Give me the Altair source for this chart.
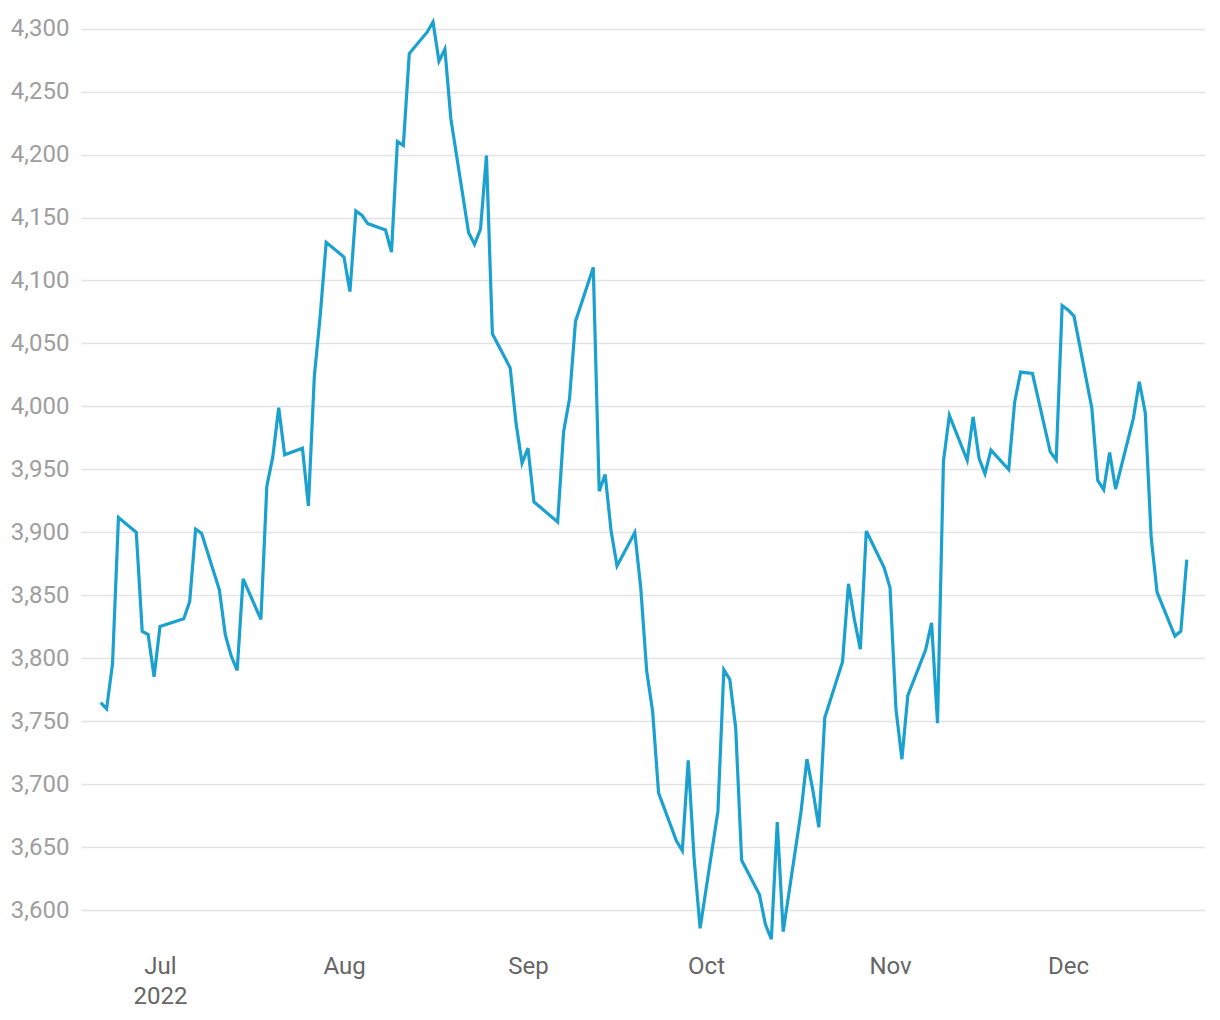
import altair as alt
import pandas as pd

dates = [
    "2022-06-21", "2022-06-22", "2022-06-23", "2022-06-24", "2022-06-27", "2022-06-28", "2022-06-29", "2022-06-30",
    "2022-07-01", "2022-07-05", "2022-07-06", "2022-07-07", "2022-07-08", "2022-07-11", "2022-07-12", "2022-07-13",
    "2022-07-14", "2022-07-15", "2022-07-18", "2022-07-19", "2022-07-20", "2022-07-21", "2022-07-22", "2022-07-25",
    "2022-07-26", "2022-07-27", "2022-07-28", "2022-07-29",
    "2022-08-01", "2022-08-02", "2022-08-03", "2022-08-04", "2022-08-05", "2022-08-08", "2022-08-09", "2022-08-10",
    "2022-08-11", "2022-08-12", "2022-08-15", "2022-08-16", "2022-08-17", "2022-08-18", "2022-08-19", "2022-08-22",
    "2022-08-23", "2022-08-24", "2022-08-25", "2022-08-26", "2022-08-29", "2022-08-30", "2022-08-31",
    "2022-09-01", "2022-09-02", "2022-09-06", "2022-09-07", "2022-09-08", "2022-09-09", "2022-09-12", "2022-09-13",
    "2022-09-14", "2022-09-15", "2022-09-16", "2022-09-19", "2022-09-20", "2022-09-21", "2022-09-22", "2022-09-23",
    "2022-09-26", "2022-09-27", "2022-09-28", "2022-09-29", "2022-09-30",
    "2022-10-03", "2022-10-04", "2022-10-05", "2022-10-06", "2022-10-07", "2022-10-10", "2022-10-11", "2022-10-12",
    "2022-10-13", "2022-10-14", "2022-10-17", "2022-10-18", "2022-10-19", "2022-10-20", "2022-10-21", "2022-10-24",
    "2022-10-25", "2022-10-26", "2022-10-27", "2022-10-28", "2022-10-31",
    "2022-11-01", "2022-11-02", "2022-11-03", "2022-11-04", "2022-11-07", "2022-11-08", "2022-11-09", "2022-11-10",
    "2022-11-11", "2022-11-14", "2022-11-15", "2022-11-16", "2022-11-17", "2022-11-18", "2022-11-21", "2022-11-22",
    "2022-11-23", "2022-11-25", "2022-11-28", "2022-11-29", "2022-11-30",
    "2022-12-01", "2022-12-02", "2022-12-05", "2022-12-06", "2022-12-07", "2022-12-08", "2022-12-09", "2022-12-12",
    "2022-12-13", "2022-12-14", "2022-12-15", "2022-12-16", "2022-12-19", "2022-12-20", "2022-12-21",
]

closes = [
    3764.79, 3759.89, 3795.73, 3911.74, 3900.11, 3821.55, 3818.83, 3785.38,
    3825.33, 3831.39, 3845.08, 3902.62, 3899.38, 3854.43, 3818.80, 3801.78,
    3790.38, 3863.16, 3830.85, 3936.69, 3959.90, 3998.95, 3961.63, 3966.84,
    3921.05, 4023.61, 4072.43, 4130.29,
    4118.63, 4091.19, 4155.17, 4151.94, 4145.19, 4140.06, 4122.47, 4210.24,
    4207.27, 4280.15, 4297.14, 4305.20, 4274.04, 4283.74, 4228.48, 4137.99,
    4128.73, 4140.77, 4199.12, 4057.66, 4030.61, 3986.16, 3955.00,
    3966.85, 3924.26, 3908.19, 3979.87, 4006.18, 4067.36, 4110.41, 3932.69,
    3946.01, 3901.35, 3873.33, 3899.89, 3855.93, 3789.93, 3757.99, 3693.23,
    3655.04, 3647.29, 3719.04, 3640.47, 3585.62,
    3678.43, 3790.93, 3783.28, 3744.52, 3639.66, 3612.39, 3588.84, 3577.03,
    3669.91, 3583.07, 3677.95, 3719.98, 3695.16, 3665.78, 3752.75, 3797.34,
    3859.11, 3830.60, 3807.30, 3901.06, 3871.98,
    3856.10, 3759.69, 3719.89, 3770.55, 3806.80, 3828.11, 3748.57, 3956.37,
    3992.93, 3957.25, 3991.73, 3958.79, 3946.56, 3965.34, 3949.94, 4003.58,
    4027.26, 4026.12, 3963.94, 3957.63, 4080.11,
    4076.57, 4071.70, 3998.84, 3941.26, 3933.92, 3963.51, 3934.38, 3990.56,
    4019.65, 3995.32, 3895.75, 3852.36, 3817.66, 3821.62, 3878.44,
]

month_ticks = ["2022-07-01", "2022-08-01", "2022-09-01", "2022-10-01", "2022-11-01", "2022-12-01"]
y_ticks = [3600, 3650, 3700, 3750, 3800, 3850, 3900, 3950, 4000, 4050, 4100, 4150, 4200, 4250, 4300]


def ms(s):
    return int(pd.Timestamp(s, tz="UTC").value // 10**6)


df = pd.DataFrame({"t": [ms(d) for d in dates], "close": closes})

x_domain = [ms("2022-06-17 16:30"), ms("2022-12-24 01:40")]

chart = (
    alt.Chart(df)
    .mark_line(color="#1BA1CF", strokeWidth=3.2, strokeJoin="miter", clip=True)
    .encode(
        x=alt.X(
            "t:T",
            scale=alt.Scale(type="utc", domain=x_domain),
            axis=alt.Axis(
                title=None,
                values=[ms(m) for m in month_ticks],
                labelExpr="[utcFormat(datum.value, '%b'), utcFormat(datum.value, '%m') == '07' ? '2022' : '']",
                grid=False,
                domain=False,
                ticks=False,
                tickSize=0,
                labelPadding=6,
                labelFontSize=24,
                labelColor="#666666",
                labelFont="Roboto",
                labelLineHeight=30,
            ),
        ),
        y=alt.Y(
            "close:Q",
            scale=alt.Scale(domain=[3570, 4310], nice=False, zero=False),
            axis=alt.Axis(
                title=None,
                values=y_ticks,
                format=",.0f",
                grid=True,
                gridColor="#e3e3e3",
                gridWidth=1.5,
                domain=False,
                ticks=False,
                tickSize=0,
                labelPadding=12,
                labelFontSize=24,
                labelColor="#9e9e9e",
                labelFont="Roboto",
            ),
        ),
    )
    .properties(
        width=1124,
        height=932,
        autosize=alt.AutoSizeParams(type="none"),
        padding={"left": 73, "top": 8, "right": 0, "bottom": 60},
    )
    .configure_view(stroke=None)
)

chart.save("out.html", embed_options={"renderer": "svg", "actions": False})
